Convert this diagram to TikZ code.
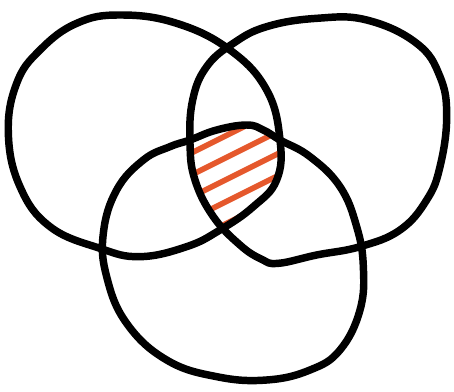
\documentclass[tikz,border=0pt]{standalone}
\begin{document}
\begin{tikzpicture}[x=0.25pt,y=-0.25pt,
  ring/.style={line width=5.6pt,black,line cap=round,line join=round},
  stripe/.style={line width=4.2pt,color=hatchred,line cap=round}]
\definecolor{hatchred}{HTML}{E5582C}
\useasboundingbox (0,0) rectangle (1362,1176);
\def\leftc{plot[smooth cycle,tension=0.7] coordinates {(360,45) (530,70) (690,150) (800,270) (840,420) (830,540) (760,620) (660,690) (560,740) (420,770) (300,745) (150,680) (60,560) (25,400) (50,250) (120,150) (230,70)}}
\def\rightc{plot[smooth cycle,tension=0.7] coordinates {(950,55) (1100,60) (1250,130) (1320,230) (1340,350) (1320,500) (1280,600) (1200,690) (1080,740) (950,765) (835,790) (785,778) (720,735) (640,650) (585,540) (570,430) (578,300) (620,200) (700,130) (800,80)}}
\def\bottomc{plot[smooth cycle,tension=0.7] coordinates {(570,420) (650,390) (740,375) (790,390) (840,420) (930,470) (1020,560) (1070,680) (1090,800) (1080,930) (1020,1050) (930,1110) (800,1140) (650,1130) (500,1080) (380,970) (320,830) (310,700) (350,570) (430,480) (510,440)}}
\begin{scope}
  \clip \leftc;
  \clip \rightc;
  \clip \bottomc;
  \foreach \k in {0,...,6}{
    \draw[stripe] (500,{680+66*\k-0.5*500}) -- (900,{680+66*\k-0.5*900});
  }
\end{scope}
\draw[ring] \leftc;
\draw[ring] \rightc;
\draw[ring] \bottomc;
\end{tikzpicture}
\end{document}
